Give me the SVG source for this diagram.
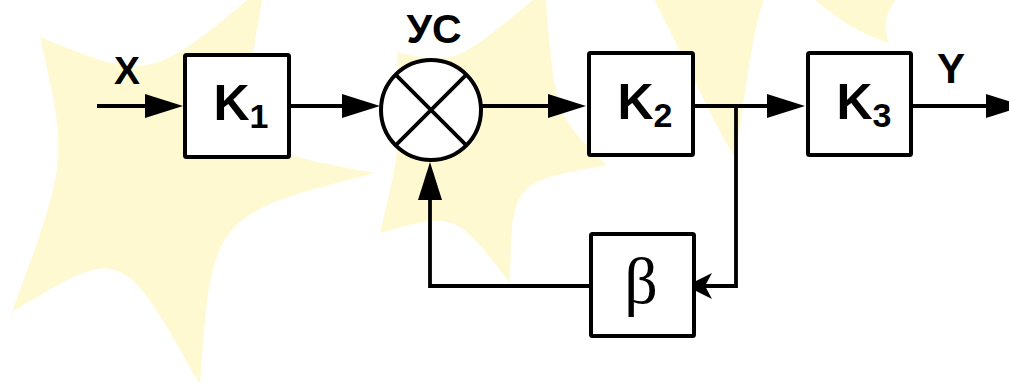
<svg xmlns="http://www.w3.org/2000/svg" width="1009" height="382" viewBox="0 0 1009 382">
<style>
.bg{fill:#FFFFFF}
.star{fill:#FFF9D2}
.blk{fill:#FFFFFF;stroke:#000;stroke-width:4;stroke-linejoin:round}
.ln{fill:none;stroke:#000;stroke-width:3.8;stroke-linejoin:miter}
.lbl{font-family:"Liberation Sans",Arial,sans-serif;font-weight:bold;fill:#000}
.beta{font-family:"Liberation Serif","Times New Roman",serif;fill:#000}
</style>
<defs>
<marker id="arr" viewBox="0 -12 38 24" refX="0" refY="0" markerUnits="userSpaceOnUse" markerWidth="38" markerHeight="24" orient="auto" overflow="visible">
<path d="M0,-12 L38,0 L0,12 Z" fill="#000"/>
</marker>
<marker id="stealth" viewBox="0 -13 26 26" refX="0" refY="0" markerUnits="userSpaceOnUse" markerWidth="26" markerHeight="26" orient="auto" overflow="visible">
<path d="M-7,-13 L19,0 L-7,13 L0,0 Z" fill="#000"/>
</marker>
</defs>
<rect class="bg" x="0" y="0" width="1009" height="382"/>
<g id="watermark">
<path class="star" d="M40,37 C150,82 150,82 265,-15 C235,148 235,148 375,173 C212,215 212,215 200,385 C122,245 122,245 12,312 C68,160 68,160 40,37 Z"/>
<path class="star" d="M397,52 C455,65 455,65 545,-10 C555,115 555,115 607,165 C512,182 512,182 510,283 C455,212 455,212 380,233 C400,150 400,150 397,52 Z"/>
<path class="star" d="M652,-5 C685,60 715,125 735,158 C745,100 750,40 765,-5 Z M810,-5 C835,18 862,35 889,43 C882,25 886,10 900,-5 Z"/>
</g>
<g id="connectors">
<path class="ln" d="M97,106 H145" marker-end="url(#arr)"/>
<path class="ln" d="M291,106 H342" marker-end="url(#arr)"/>
<path class="ln" d="M481,106 H548" marker-end="url(#arr)"/>
<path class="ln" d="M695,106 H767" marker-end="url(#arr)"/>
<path class="ln" d="M912,106 H986" marker-end="url(#arr)"/>
<path class="ln" d="M695,106 H736 V286 H705" marker-end="url(#stealth)"/>
<path class="ln" d="M589,286 H430 V200" marker-end="url(#arr)"/>
</g>
<g id="label-x"><text class="lbl" x="127" y="84" font-size="39" text-anchor="middle">X</text></g>
<g id="label-y"><text class="lbl" x="951" y="83" font-size="42" text-anchor="middle">Y</text></g>
<g id="k1">
<rect class="blk" x="185" y="55" width="104" height="102" rx="1.5"/>
<text class="lbl" x="241" y="120" font-size="50" text-anchor="middle">K<tspan font-size="34" dy="8">1</tspan></text>
</g>
<g id="sum">
<circle class="blk" cx="431" cy="110" r="50"/>
<path class="ln" d="M395.6,74.6 L466.4,145.4 M466.4,74.6 L395.6,145.4"/>
<text class="lbl" x="434" y="43" font-size="41" text-anchor="middle">УС</text>
</g>
<g id="k2">
<rect class="blk" x="589" y="53" width="104" height="102" rx="1.5"/>
<text class="lbl" x="645" y="119" font-size="50" text-anchor="middle">K<tspan font-size="34" dy="8">2</tspan></text>
</g>
<g id="k3">
<rect class="blk" x="808" y="53" width="103" height="102" rx="1.5"/>
<text class="lbl" x="864" y="119" font-size="50" text-anchor="middle">K<tspan font-size="34" dy="8">3</tspan></text>
</g>
<g id="beta">
<rect class="blk" x="591" y="234" width="103" height="102" rx="1.5"/>
<text class="beta" x="641" y="303" font-size="66" text-anchor="middle">β</text>
</g>
</svg>
